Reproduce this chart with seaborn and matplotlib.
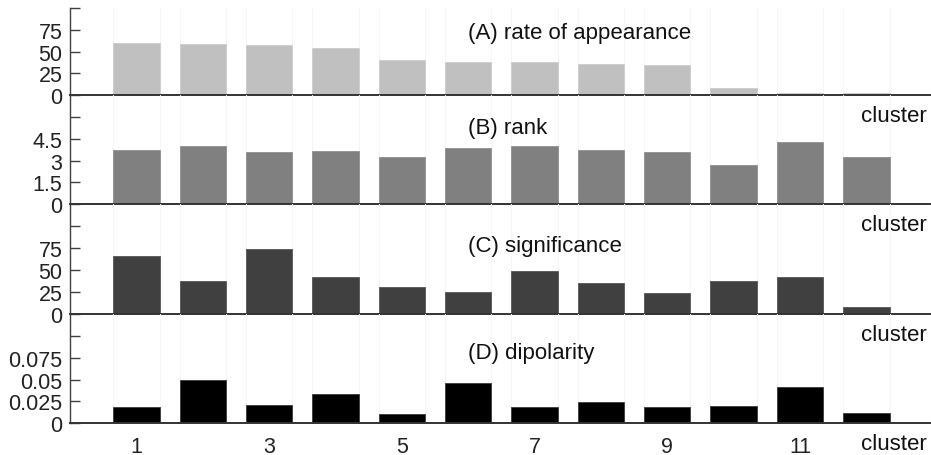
import matplotlib
matplotlib.use("Agg")
import matplotlib.pyplot as plt
import seaborn as sns
import pandas as pd

clusters = list(range(1, 13))
rate = [60.1, 58.6, 57.5, 54.0, 40.2, 37.9, 37.9, 35.6, 34.5, 7.7, 2.7, 1.9]
rank = [3.70, 4.00, 3.56, 3.63, 3.26, 3.84, 4.02, 3.70, 3.59, 2.69, 4.30, 3.22]
significance = [65.8, 37.6, 74.1, 41.8, 30.4, 25.1, 49.0, 35.0, 24.3, 37.3, 41.8, 8.3]
dipolarity = [0.0187, 0.0496, 0.0210, 0.0332, 0.0107, 0.0462, 0.0183, 0.0248,
              0.0187, 0.0202, 0.0420, 0.0118]

titles = ["(A) rate of appearance", "(B) rank", "(C) significance", "(D) dipolarity"]
ytick_vals = [[0, 25, 50, 75, 100], [0, 1.5, 3, 4.5, 6], [0, 25, 50, 75, 100],
              [0, 0.025, 0.05, 0.075, 0.1]]
ytick_labels = [["0", "25", "50", "75", ""], ["0", "1.5", "3", "4.5", ""],
                ["0", "25", "50", "75", ""], ["0", "0.025", "0.05", "0.075", ""]]
xtick_vals = [1, 3, 5, 7, 9, 11]
xtick_labels = ["1", "3", "5", "7", "9", "11"]
xlabel = "cluster"

series = [rate, rank, significance, dipolarity]
colors = ["#c0c0c0", "#808080", "#404040", "#000000"]
edges = ["#cdcdcd", "#909090", "#555555", "#3a3a3a"]
ylims = [100, 7.5, 125, 0.125]
title_y = [72.4, 5.24, 77.5, 0.0811]

sns.set_style("white")
plt.rcParams["font.family"] = ["Liberation Sans", "DejaVu Sans"]

fig = plt.figure(figsize=(9.31, 4.56), dpi=100)
gs = fig.add_gridspec(4, 1, height_ratios=[87, 109, 110, 109], hspace=0,
                      left=70.1 / 931, right=930 / 931,
                      bottom=(456 - 424.3) / 456, top=(456 - 9) / 456)

for i in range(4):
    ax = fig.add_subplot(gs[i])
    ax.patch.set_alpha(0)
    df = pd.DataFrame({"cluster": clusters, "value": series[i]})
    sns.barplot(data=df, x="cluster", y="value", native_scale=True, width=0.7,
                color=colors[i], saturation=1, edgecolor=edges[i],
                linewidth=0.6, ax=ax, zorder=2)
    for c in clusters:
        for e in (c - 0.35, c + 0.35):
            ax.axvline(e, color="#f6f6f6", lw=0.8, zorder=0)
    ax.set_xlim(0, 12.96)
    ax.set_ylim(0, ylims[i])
    ax.set_yticks(ytick_vals[i])
    ax.set_yticklabels(ytick_labels[i])
    ax.set_xlabel("")
    ax.set_ylabel("")
    for s in ("top", "right"):
        ax.spines[s].set_visible(False)
    ax.spines["left"].set_color("#404040")
    ax.spines["left"].set_linewidth(1.0)
    ax.spines["bottom"].set_color("#333333")
    ax.spines["bottom"].set_linewidth(1.4)
    ax.spines["bottom"].set_zorder(3)
    ax.tick_params(axis="y", direction="in", length=7, width=1, color="#404040",
                   labelsize=15.5, labelcolor="#222222", pad=5.5, left=True)
    if i == 3:
        ax.set_xticks(xtick_vals)
        ax.set_xticklabels(xtick_labels)
        ax.tick_params(axis="x", length=0, labelsize=15.5, labelcolor="#222222", pad=9)
    else:
        ax.set_xticks([])
    ax.text(6.0, title_y[i], titles[i], ha="left", va="center", fontsize=16,
            color="#111111", zorder=5)
    ax.annotate(xlabel, xy=(1, 0), xycoords="axes fraction", xytext=(-3, -20),
                textcoords="offset pixels", ha="right", va="center", fontsize=16,
                color="#111111", annotation_clip=False, zorder=5)

fig.savefig("out.png", dpi=100)
